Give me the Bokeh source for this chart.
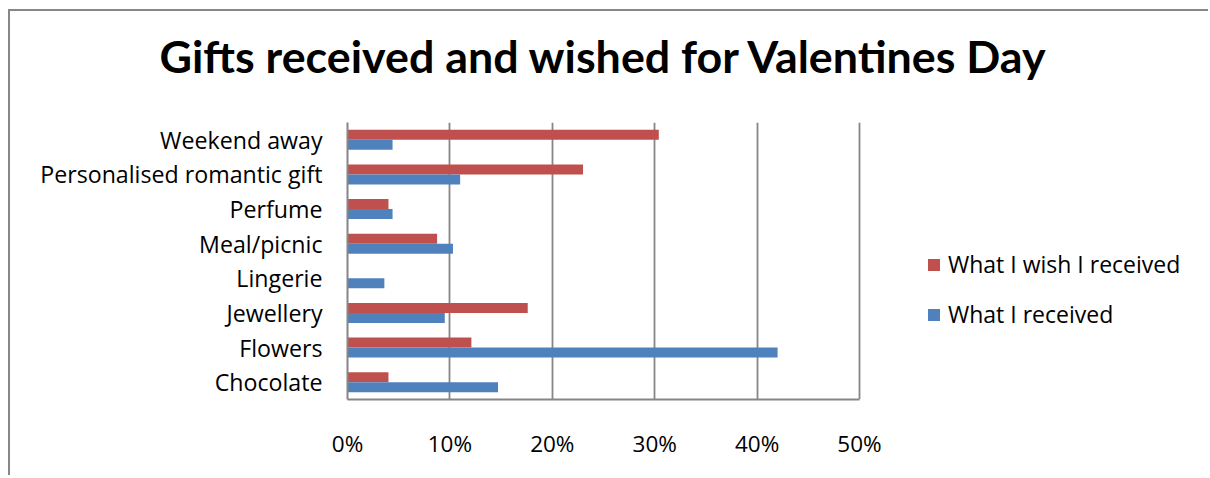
from bokeh.plotting import figure
from bokeh.models import (FactorRange, Range1d, NumeralTickFormatter, FixedTicker,
                          Legend, LegendItem, ColumnDataSource, Title)
from bokeh.transform import dodge
from bokeh.embed import file_html
from bokeh.resources import INLINE

categories = ["Chocolate", "Flowers", "Jewellery", "Lingerie", "Meal/picnic",
              "Perfume", "Personalised romantic gift", "Weekend away"]
wished = [0.040, 0.121, 0.176, 0.0, 0.0875, 0.040, 0.230, 0.304]
received = [0.147, 0.420, 0.095, 0.036, 0.103, 0.044, 0.110, 0.044]
x_ticks = [0.0, 0.1, 0.2, 0.3, 0.4, 0.5]
series_names = ["What I wish I received", "What I received"]
title_text = "Gifts received and wished for Valentines Day"

RED = "#C0504D"
BLUE = "#4F81BD"
GRAY = "#868686"
FONT = "Open Sans"
TFONT = "Lato"

# layout (pixels)
W, H = 1200, 466
ML, MT = 337, 111
FRAME_W, FRAME_H = W - ML, 277
PX_PER_HALF = 512          # pixels from 0% to 50%
x_end = 0.5 * FRAME_W / PX_PER_HALF

src = ColumnDataSource(dict(cat=categories, wished=wished, received=received))

p = figure(width=W, height=H,
           y_range=FactorRange(*categories), x_range=Range1d(0, x_end),
           output_backend="svg", toolbar_location=None,
           min_border_left=ML, min_border_right=0,
           min_border_top=MT, min_border_bottom=H - MT - FRAME_H)
p.styles = {"margin-left": "8px", "margin-top": "9px",
            "border-left": "2px solid #878787", "border-top": "2px solid #878787"}
p.outline_line_color = None

r_red = p.hbar(y=dodge("cat", 0.145, range=p.y_range), left=0, right="wished",
               height=0.29, source=src, fill_color=RED, line_color=None)
r_blue = p.hbar(y=dodge("cat", -0.145, range=p.y_range), left=0, right="received",
                height=0.29, source=src, fill_color=BLUE, line_color=None)

# spacer between title and plot area
p.add_layout(Title(text=" ", text_font_size="1px", standoff=18), "above")

p.title.text = title_text
p.title.text_font = TFONT
p.title.text_font_style = "bold"
p.title.text_font_size = "44.8px"
p.title.align = "left"
p.title.vertical_align = "top"
p.title.offset = -188
p.title.text_color = "#000000"
p.title.standoff = 34

p.xaxis.ticker = FixedTicker(ticks=x_ticks)
p.xaxis.bounds = (0, 0.5)
p.xaxis.formatter = NumeralTickFormatter(format="0%")
p.xaxis.axis_line_color = GRAY
p.xaxis.axis_line_width = 2
p.xaxis.major_tick_line_color = None
p.xaxis.minor_tick_line_color = None
p.xaxis.major_label_standoff = 22
p.xaxis.major_label_text_font = FONT
p.xaxis.major_label_text_font_size = "22.5px"
p.xaxis.major_label_text_color = "#000000"

p.yaxis.axis_line_color = GRAY
p.yaxis.axis_line_width = 2
p.yaxis.major_tick_line_color = None
p.yaxis.minor_tick_line_color = None
p.yaxis.major_label_standoff = 19
p.yaxis.major_label_text_font = FONT
p.yaxis.major_label_text_font_size = "23.2px"
p.yaxis.major_label_text_color = "#000000"

p.xgrid.grid_line_color = GRAY
p.xgrid.grid_line_width = 1.8
p.ygrid.grid_line_color = None

legend = Legend(items=[LegendItem(label=series_names[0], renderers=[r_red]),
                       LegendItem(label=series_names[1], renderers=[r_blue])],
                location=(579, 69))
legend.border_line_color = None
legend.background_fill_alpha = 0
legend.glyph_width = 15
legend.glyph_height = 15
legend.label_standoff = 7
legend.spacing = 18
legend.padding = 0
legend.margin = 0
legend.label_text_font = FONT
legend.label_text_font_size = "23px"
legend.label_text_color = "#000000"
p.add_layout(legend)

open("out.html", "w").write(file_html(p, INLINE))
